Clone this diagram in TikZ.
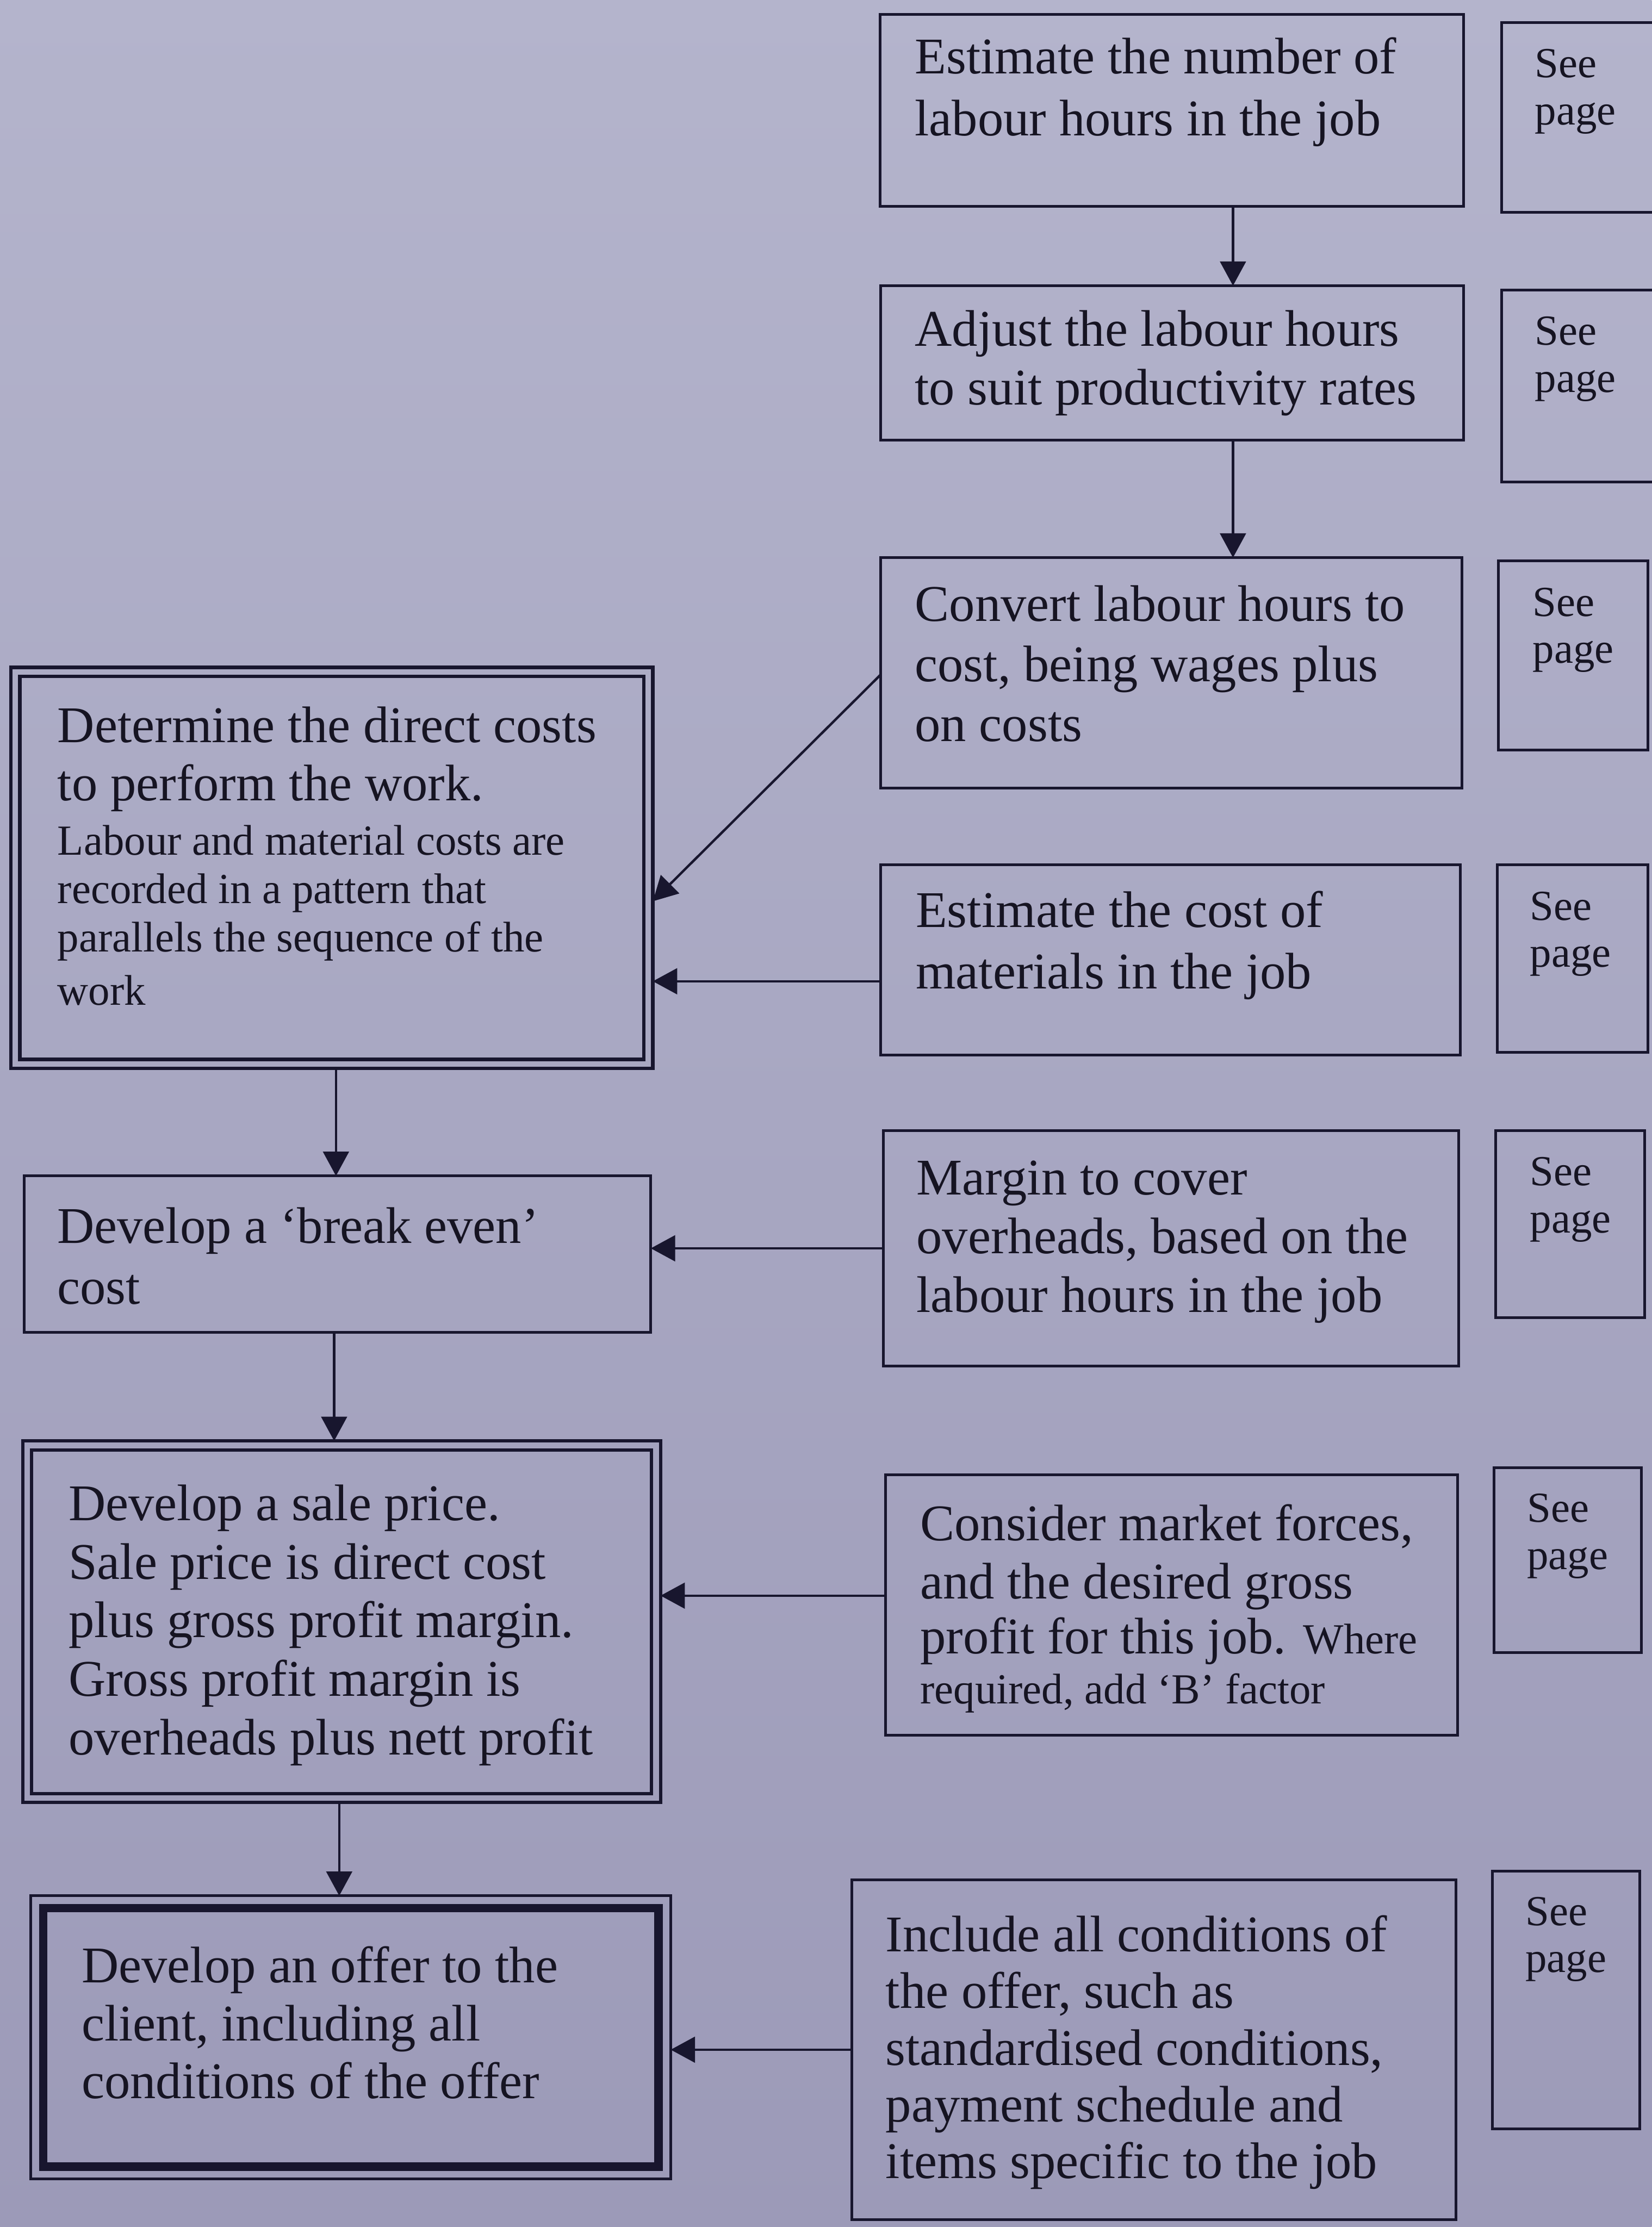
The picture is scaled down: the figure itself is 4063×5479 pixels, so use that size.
\documentclass[tikz,border=0pt]{standalone}
\usepackage{fontspec}
\setmainfont{Liberation Serif}
\usetikzlibrary{arrows.meta,calc}

\definecolor{ink}{RGB}{24,22,46}
\definecolor{txtc}{RGB}{22,20,34}
\definecolor{papertop}{RGB}{180,180,204}
\definecolor{paperbot}{RGB}{156,154,184}

\tikzset{
  box/.style={draw=ink, line width=1.9pt, rectangle, inner sep=0pt, outer sep=0pt, anchor=north west},
  heavybox/.style={box, line width=2.4pt},
  txt/.style={anchor=north west, inner sep=0pt, align=left, text=txtc,
              font=\fontsize{36}{41}\selectfont},
  seetxt/.style={anchor=north west, inner sep=0pt, align=left, text=txtc,
                 font=\fontsize{30}{33}\selectfont},
  arr/.style={draw=ink, line width=1.7pt, -{Triangle[length=17pt,width=18pt]}},
}
\newcommand{\smalltxt}{\fontsize{30}{33}\selectfont}

\begin{document}
\begin{tikzpicture}[x=0.01cm, y=-0.01cm]
  % page
  \useasboundingbox (0,0) rectangle (4063,5479);
  \shade[top color=papertop, bottom color=paperbot] (0,0) rectangle (4063,5479);

  % ---------- right column: estimating steps ----------
  \node[box, minimum width=14.35cm, minimum height=4.73cm] (b1) at (2165,35) {};
  \node[box, minimum width=14.33cm, minimum height=3.80cm] (b2) at (2166,703) {};
  \node[box, minimum width=14.29cm, minimum height=5.67cm] (b3) at (2166,1372) {};
  \node[box, minimum width=14.26cm, minimum height=4.68cm] (b4) at (2166,2128) {};
  \node[box, minimum width=14.15cm, minimum height=5.80cm] (b5) at (2173,2781) {};
  \node[box, minimum width=14.07cm, minimum height=6.41cm] (b6) at (2178,3628) {};
  \node[box, minimum width=14.85cm, minimum height=8.35cm] (b7) at (2096,4625) {};

  \node[txt, font=\fontsize{36}{43.5}\selectfont] (t1) at (2250,91)
    {Estimate the number of\\labour hours in the job};
  \node[txt] (t2) at (2250,763)
    {Adjust the labour hours\\to suit productivity rates};
  \node[txt, font=\fontsize{36}{42}\selectfont] (t3) at (2250,1440)
    {Convert labour hours to\\cost, being wages plus\\on costs};
  \node[txt, font=\fontsize{36}{43}\selectfont] (t4) at (2252,2191)
    {Estimate the cost of\\materials in the job};
  \node[txt] (t5) at (2254,2855)
    {Margin to cover\\overheads, based on the\\labour hours in the job};
  \node[txt, font=\fontsize{36}{40.7}\selectfont] (t6) at (2263,3700)
    {Consider market forces,\\and the desired gross\\[-2.3pt]profit for this job. {\smalltxt Where}\\[-5.7pt]{\smalltxt required, add ‘B’ factor}};
  \node[txt, font=\fontsize{36}{39.6}\selectfont] (t7) at (2178,4712)
    {Include all conditions of\\the offer, such as\\standardised conditions,\\payment schedule and\\items specific to the job};

  % ---------- page reference boxes ----------
  \node[box, minimum width=4.20cm, minimum height=4.67cm] (s1) at (3694,55) {};
  \node[box, minimum width=4.20cm, minimum height=4.73cm] (s2) at (3694,713) {};
  \node[box, minimum width=3.67cm, minimum height=4.65cm] (s3) at (3686,1380) {};
  \node[box, minimum width=3.70cm, minimum height=4.61cm] (s4) at (3683,2128) {};
  \node[box, minimum width=3.67cm, minimum height=4.61cm] (s5) at (3679,2781) {};
  \node[box, minimum width=3.63cm, minimum height=4.54cm] (s6) at (3675,3611) {};
  \node[box, minimum width=3.62cm, minimum height=6.34cm] (s7) at (3671,4603) {};

  \node[seetxt] (p1) at (3775,120) {See\\page};
  \node[seetxt] (p2) at (3775,778) {See\\page};
  \node[seetxt] (p3) at (3770,1445) {See\\page};
  \node[seetxt] (p4) at (3763,2193) {See\\page};
  \node[seetxt] (p5) at (3763,2846) {See\\page};
  \node[seetxt] (p6) at (3756,3674) {See\\page};
  \node[seetxt] (p7) at (3752,4666) {See\\page};

  % ---------- left column: pricing steps ----------
  \node[heavybox, minimum width=15.78cm, minimum height=9.86cm] (A) at (27,1642) {};
  \draw[ink, line width=2.4pt] ([shift={(0.22cm,-0.22cm)}]A.north west)
        rectangle ([shift={(-0.22cm,0.22cm)}]A.south east);
  \node[box, minimum width=15.41cm, minimum height=3.84cm] (B) at (59,2893) {};
  \node[heavybox, minimum width=15.68cm, minimum height=8.89cm] (C) at (56,3545) {};
  \draw[ink, line width=2.4pt] ([shift={(0.22cm,-0.22cm)}]C.north west)
        rectangle ([shift={(-0.22cm,0.22cm)}]C.south east);
  \node[box, line width=1.8pt, minimum width=15.73cm, minimum height=6.96cm] (D) at (76,4664) {};
  \draw[ink, line width=5.8pt] ([shift={(0.30cm,-0.30cm)}]D.north west)
        rectangle ([shift={(-0.30cm,0.30cm)}]D.south east);

  \node[txt, font=\fontsize{36}{40.7}\selectfont] (tA) at (141,1738)
    {Determine the direct costs\\to perform the work.\\[-2.6pt]{\smalltxt Labour and material costs are}\\[-6.8pt]{\smalltxt recorded in a pattern that}\\[-6.8pt]{\smalltxt parallels the sequence of the}\\[-3.7pt]{\smalltxt work}};
  \node[txt, font=\fontsize{36}{42.7}\selectfont] (tB) at (140,2970)
    {Develop a ‘break even’\\cost};
  \node[txt] (tC) at (168,3652)
    {Develop a sale price.\\Sale price is direct cost\\plus gross profit margin.\\Gross profit margin is\\overheads plus nett profit};
  \node[txt, font=\fontsize{36}{40.5}\selectfont] (tD) at (200,4788)
    {Develop an offer to the\\client, including all\\conditions of the offer};

  % ---------- connectors ----------
  \path ([xshift=1.5cm]b1.south) coordinate (d1);
  \path ([xshift=1.5cm]b2.south) coordinate (d2);
  \draw[arr] (d1) -- (d1 |- b2.north);
  \draw[arr] (d2) -- (d2 |- b3.north);

  \draw[arr] ([yshift=-2.88cm]b3.north west) -- ([yshift=-0.82cm]A.east);
  \path ([yshift=-0.52cm]b4.west) coordinate (m4);
  \draw[arr] (m4) -- (m4 -| A.east);
  \draw[arr] (b5.west) -- (b5.west -| B.east);
  \path ([yshift=0.23cm]b6.west) coordinate (m6);
  \draw[arr] (m6) -- (m6 -| C.east);
  \draw[arr] (b7.west) -- (b7.west -| D.east);

  \path ([xshift=0.1cm]A.south) coordinate (a1);
  \draw[arr] (a1) -- (a1 |- B.north);
  \path ([xshift=-0.08cm]B.south) coordinate (a2);
  \draw[arr] (a2) -- (a2 |- C.north);
  \path ([xshift=-0.06cm]C.south) coordinate (a3);
  \draw[arr] (a3) -- (a3 |- D.north);
\end{tikzpicture}
\end{document}
